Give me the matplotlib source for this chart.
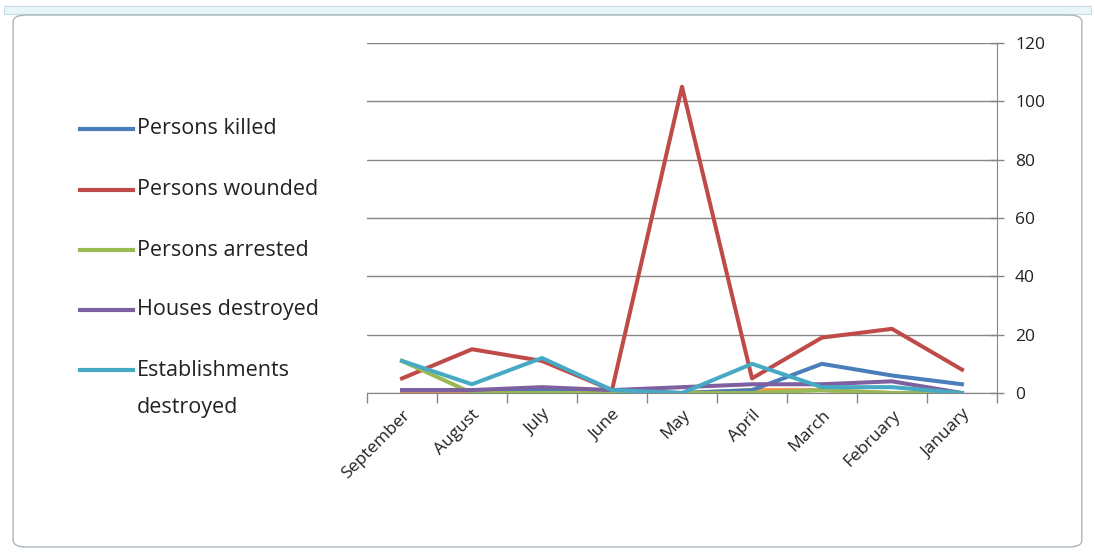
import matplotlib
matplotlib.use("Agg")
import matplotlib.pyplot as plt
from matplotlib.patches import FancyBboxPatch, Rectangle
from matplotlib.lines import Line2D

months = ["September", "August", "July", "June", "May", "April", "March", "February", "January"]
persons_killed = [1, 1, 1, 1, 0, 1, 10, 6, 3]
persons_wounded = [5, 15, 11, 1, 105, 5, 19, 22, 8]
persons_arrested = [11, 0, 0, 0, 0, 0, 1, 0, 0]
houses_destroyed = [1, 1, 2, 1, 2, 3, 3, 4, 0]
establishments_destroyed = [11, 3, 12, 1, 0, 10, 2, 2, 0]
other_series = [0, 0, 0, 0, 0, 1, 1, 0, 0]
y_ticks = [0, 20, 40, 60, 80, 100, 120]

series_labels = ["Persons killed", "Persons wounded", "Persons arrested",
                 "Houses destroyed", "Establishments\ndestroyed"]
series_values = [persons_killed, persons_wounded, persons_arrested,
                 houses_destroyed, establishments_destroyed]
series_colors = ["#4A7EBB", "#BE4B48", "#98B954", "#7D60A0", "#46AAC5"]

plt.rcParams['font.family'] = ['Open Sans', 'DejaVu Sans']

W, H = 1095, 557
fig = plt.figure(figsize=(W / 100, H / 100), dpi=100)

# outer frame
fig.patches.append(Rectangle((0.004, 0.975), 0.992, 0.015, transform=fig.transFigure,
                             facecolor="#E8F6FA", edgecolor="#C9DCE3", lw=0.8, zorder=-2))
fig.patches.append(FancyBboxPatch((0.012, 0.018), 0.976, 0.955,
                                  boxstyle="round,pad=0,rounding_size=0.012",
                                  transform=fig.transFigure, facecolor="white",
                                  edgecolor="#A9B6BD", lw=1.0, zorder=-1))

ax = fig.add_axes([367 / W, 1 - 393 / H, 630 / W, 350 / H])
ax.set_facecolor("none")
x = list(range(len(months)))

ax.plot(x, other_series, color="#F79646", lw=2.9, zorder=2)
for label, vals, color in zip(series_labels, series_values, series_colors):
    ax.plot(x, vals, color=color, lw=2.9, label=label, zorder=3)

ax.set_xlim(-0.5, len(months) - 0.5)
ax.set_ylim(0, 120)
ax.set_yticks(y_ticks)
ax.yaxis.tick_right()
ax.tick_params(axis='y', which='both', direction='inout', length=10, width=1,
               colors="#868686", labelcolor="#222222", labelsize=12.5, pad=8)
ax.grid(axis='y', color="#868686", lw=1)
ax.set_axisbelow(True)

ax.set_xticks([i - 0.5 for i in range(len(months) + 1)], minor=False)
ax.set_xticklabels([])
ax.set_xticks(x, minor=True)
ax.set_xticklabels(months, minor=True, rotation=45, ha='right', va='top',
                   rotation_mode='anchor', fontsize=12.5, color="#222222")
ax.tick_params(axis='x', which='major', direction='out', length=7, width=1, colors="#868686")
ax.tick_params(axis='x', which='minor', length=0, pad=10)

for s in ["top", "left"]:
    ax.spines[s].set_visible(False)
ax.spines["bottom"].set_color("#868686")
ax.spines["right"].set_color("#868686")

# legend (drawn at the left, Excel style)
row_y = [129, 190, 250, 310, 370]
for yy, label, color in zip(row_y, series_labels, series_colors):
    fig.add_artist(Line2D([80 / W, 133 / W], [1 - yy / H, 1 - yy / H],
                          color=color, lw=3.0, transform=fig.transFigure))
    lines = label.split("\n")
    for k, t in enumerate(lines):
        fig.text(137 / W, 1 - (yy + 38 * k) / H, t, fontsize=15.5, color="#222222",
                 ha="left", va="center")

fig.savefig("out.png", dpi=100)
